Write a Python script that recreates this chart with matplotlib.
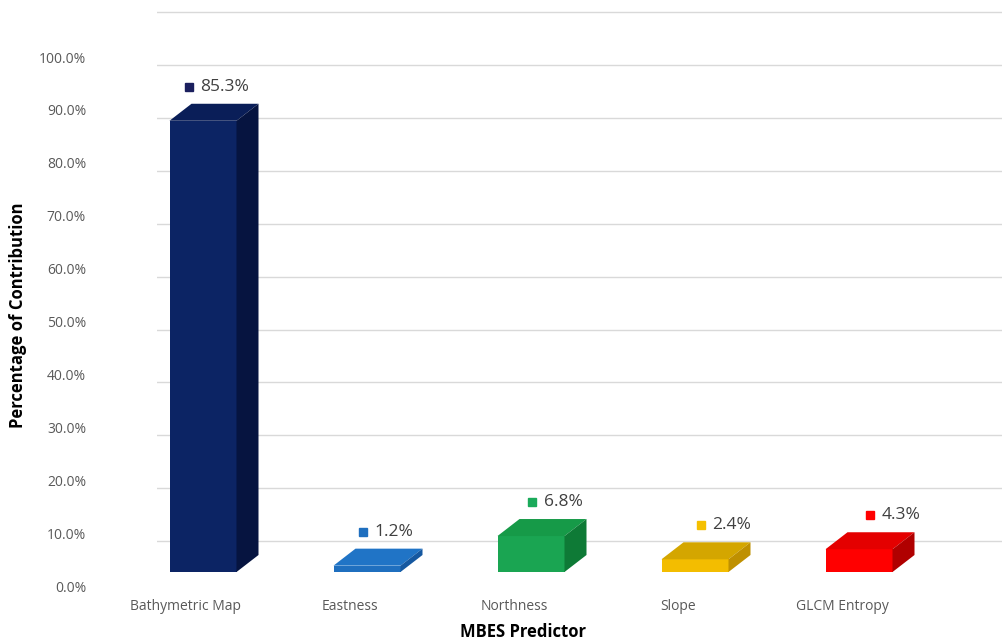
import matplotlib
matplotlib.use("Agg")
import matplotlib.pyplot as plt
from matplotlib.patches import Polygon
from matplotlib.transforms import blended_transform_factory, ScaledTranslation
import numpy as np

categories = ["Bathymetric Map", "Eastness", "Northness", "Slope", "GLCM Entropy"]
values = [85.3, 1.2, 6.8, 2.4, 4.3]
front_colors = ["#0c2464", "#1f6fbf", "#1aa552", "#f3bd00", "#ff0000"]
top_colors = ["#0a1e58", "#2074c6", "#169a48", "#d4a600", "#e40000"]
side_colors = ["#061440", "#1558a0", "#0e7a36", "#bf9000", "#b00000"]
marker_colors = ["#1b1f5e", "#1f6fbf", "#1aaa5a", "#f5c000", "#ff0000"]
yticks = [0, 10, 20, 30, 40, 50, 60, 70, 80, 90, 100]
grid_vals = [10, 20, 30, 40, 50, 60, 70, 80, 90, 100, 110]

plt.rcParams['font.family'] = ['Open Sans', 'DejaVu Sans']

W, H = 1002, 641
fig = plt.figure(figsize=(W / 100, H / 100), dpi=100)
left_px = 157
ax = fig.add_axes([left_px / W, 0, (W - left_px) / W, 1])
ax.patch.set_alpha(0)

# scales: index i -> pixel x0 + sp*i ; value v -> pixel base - k*v
x0, sp = 203.0, 164.0
base, k = 572.0, 5.29
ax.set_xlim((left_px - x0) / sp, (W - x0) / sp)
ax.set_ylim(-(H - base) / k, base / k)

pos = np.arange(len(categories))
w = 67 / sp
dx = 22 / sp
dy = 17 / k
grid_shift = 4.16
label_shift = 2.65

for gv in grid_vals:
    ax.axhline(gv - grid_shift, color="#d9d9d9", lw=1.0, zorder=0)

for i, (p, v) in enumerate(zip(pos, values)):
    xl, xr = p - w / 2, p + w / 2
    ax.bar(p, v, width=w, color=front_colors[i], zorder=3, linewidth=0)
    ax.add_patch(Polygon([(xl, v), (xr, v), (xr + dx, v + dy), (xl + dx, v + dy)],
                         closed=True, facecolor=top_colors[i], edgecolor='none', zorder=3))
    ax.add_patch(Polygon([(xr, 0), (xr + dx, dy), (xr + dx, v + dy), (xr, v)],
                         closed=True, facecolor=side_colors[i], edgecolor='none', zorder=3))
    # data label
    tx = p + (22 + 5 * i) / sp
    ty = v + dy + 17 / k
    t = ax.text(tx, ty, f"{v:.1f}%", ha='center', va='center', fontsize=12.5,
                color="#404040", zorder=5)
    fig.canvas.draw() if i == 0 else None
    r = fig.canvas.get_renderer()
    bb = t.get_window_extent(renderer=r)
    xl_text = ax.transData.inverted().transform((bb.x0, bb.y0))[0]
    ax.plot([xl_text - 12 / sp], [ty], marker='s', ms=6, color=marker_colors[i],
            linestyle='none', zorder=5)

# y tick labels
ax.set_yticks([v - label_shift for v in yticks])
ax.set_yticklabels([f"{v:.1f}%" for v in yticks])
ax.tick_params(axis='y', length=0, pad=(left_px - 86) * 0.72, labelsize=10, labelcolor="#595959")
ax.set_xticks([])
for s in ax.spines.values():
    s.set_visible(False)

# category labels
trans = blended_transform_factory(ax.transData, fig.transFigure)
for p, c in zip(pos, categories):
    ax.text(p - 17 / sp, 1 - 606 / H, c, transform=trans, ha='center', va='center',
            fontsize=10, color="#595959")

fig.text(523 / W, 1 - 632 / H, "MBES Predictor", ha='center', va='center',
         fontsize=12, fontweight='bold', color="#000000")
fig.text(18 / W, 1 - 315 / H, "Percentage of Contribution", ha='center', va='center',
         rotation=90, fontsize=12, fontweight='bold', color="#000000")

fig.savefig("out.png", dpi=100, facecolor="white")
